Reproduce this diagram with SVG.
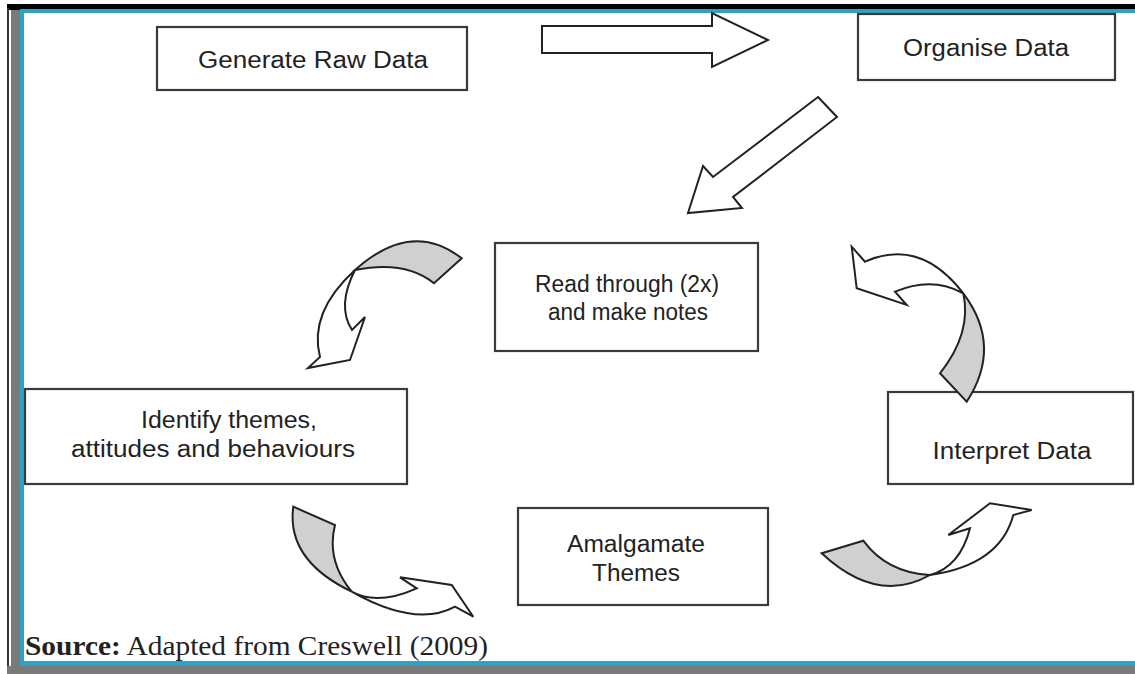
<svg xmlns="http://www.w3.org/2000/svg" width="1135" height="674" viewBox="0 0 1135 674">
<style>
.box{fill:#fff;stroke:#3a3a3a;stroke-width:2.2}
.t{font-family:"Liberation Sans",Arial,sans-serif;font-size:23px;fill:#222;text-anchor:middle}
.arr{fill:#fff;stroke:#222;stroke-width:2;stroke-linejoin:miter}
.g{fill:#d0d0d0;stroke:#222;stroke-width:2;stroke-linejoin:miter}
</style>
<rect width="1135" height="674" fill="#fff"/>
<g id="frame">
<rect x="7" y="4" width="1128" height="6" fill="#000"/>
<rect x="20" y="9" width="1115" height="4" fill="#2fa3c3"/>
<rect x="7" y="8" width="2" height="664" fill="#333"/>
<rect x="11" y="10" width="9" height="662" fill="#7a7a7a"/>
<rect x="20" y="10" width="4" height="656" fill="#2fa3c3"/>
<rect x="20" y="661" width="1115" height="5" fill="#2fa3c3"/>
<rect x="7" y="666" width="1128" height="8" fill="#7a7a7a"/>
</g>
<g id="n1"><rect class="box" x="157" y="27" width="310" height="63"/><text class="t" x="313" y="68" textLength="230" lengthAdjust="spacingAndGlyphs">Generate Raw Data</text></g>
<g id="n2"><rect class="box" x="858" y="14" width="257" height="66"/><text class="t" x="986" y="56" textLength="166" lengthAdjust="spacingAndGlyphs">Organise Data</text></g>
<g id="n3"><rect class="box" x="495" y="243" width="263" height="108"/><text class="t" x="627" y="292" textLength="184" lengthAdjust="spacingAndGlyphs">Read through (2x)</text><text class="t" x="628" y="320" textLength="160" lengthAdjust="spacingAndGlyphs">and make notes</text></g>
<g id="n4"><rect class="box" x="25" y="389" width="382" height="95"/><text class="t" x="229" y="428" textLength="176" lengthAdjust="spacingAndGlyphs">Identify themes,</text><text class="t" x="213" y="457" textLength="284" lengthAdjust="spacingAndGlyphs">attitudes and behaviours</text></g>
<g id="n5"><rect class="box" x="888" y="392" width="245" height="92"/><text class="t" x="1012" y="459" textLength="159" lengthAdjust="spacingAndGlyphs">Interpret Data</text></g>
<g id="n6"><rect class="box" x="518" y="508" width="250" height="97"/><text class="t" x="636" y="552" textLength="138" lengthAdjust="spacingAndGlyphs">Amalgamate</text><text class="t" x="636" y="581" textLength="88" lengthAdjust="spacingAndGlyphs">Themes</text></g>
<g id="connectors">
<polygon class="arr" points="542,26 712,26 712,13 768,40 712,67 712,53 542,53"/>
<polygon class="arr" points="818,97 837,117 733,197 742,208 688,213 703,166 713,177"/>
<path class="g" d="M461.7,258.3 Q411.7,219 355,270 Q405.5,260 434,283.3 Z"/>
<path class="arr" d="M355,270 Q308.5,312.5 320,357 L308,368 L350,360 L365,317 L352,330 Q336.5,306 355,270 Z"/>
<path class="g" d="M940,373.3 L966.7,401.7 Q1003,346 963.3,293.3 Q972,333 940,373.3 Z"/>
<path class="arr" d="M963.3,293.3 Q920,237 865,261.7 L851.7,246.7 L856.7,288.3 L906.7,305 L895,291.7 Q932,276 963.3,293.3 Z"/>
<path class="g" d="M293.3,506.7 L335,525 Q326,560 351.7,591.7 Q286,560 293.3,506.7 Z"/>
<path class="arr" d="M351.7,591.7 Q416,628 455,606.7 L473.3,616.7 L451.7,585 L400,577.3 L416.7,588.3 Q377,606 351.7,591.7 Z"/>
<path class="g" d="M821.7,553.3 L863.3,540.7 Q887,573 930,575 Q877,605 821.7,553.3 Z"/>
<path class="arr" d="M930,575 Q1000,565 1013.3,515 L1031.7,510 L990,503.3 L948.3,535 L970,528.3 Q960,567 930,575 Z"/>
</g>
<text x="25" y="655" font-family="'Liberation Serif','Times New Roman',serif" font-size="27" fill="#222" textLength="463" lengthAdjust="spacingAndGlyphs"><tspan font-weight="bold">Source:</tspan> Adapted from Creswell (2009)</text>
</svg>
